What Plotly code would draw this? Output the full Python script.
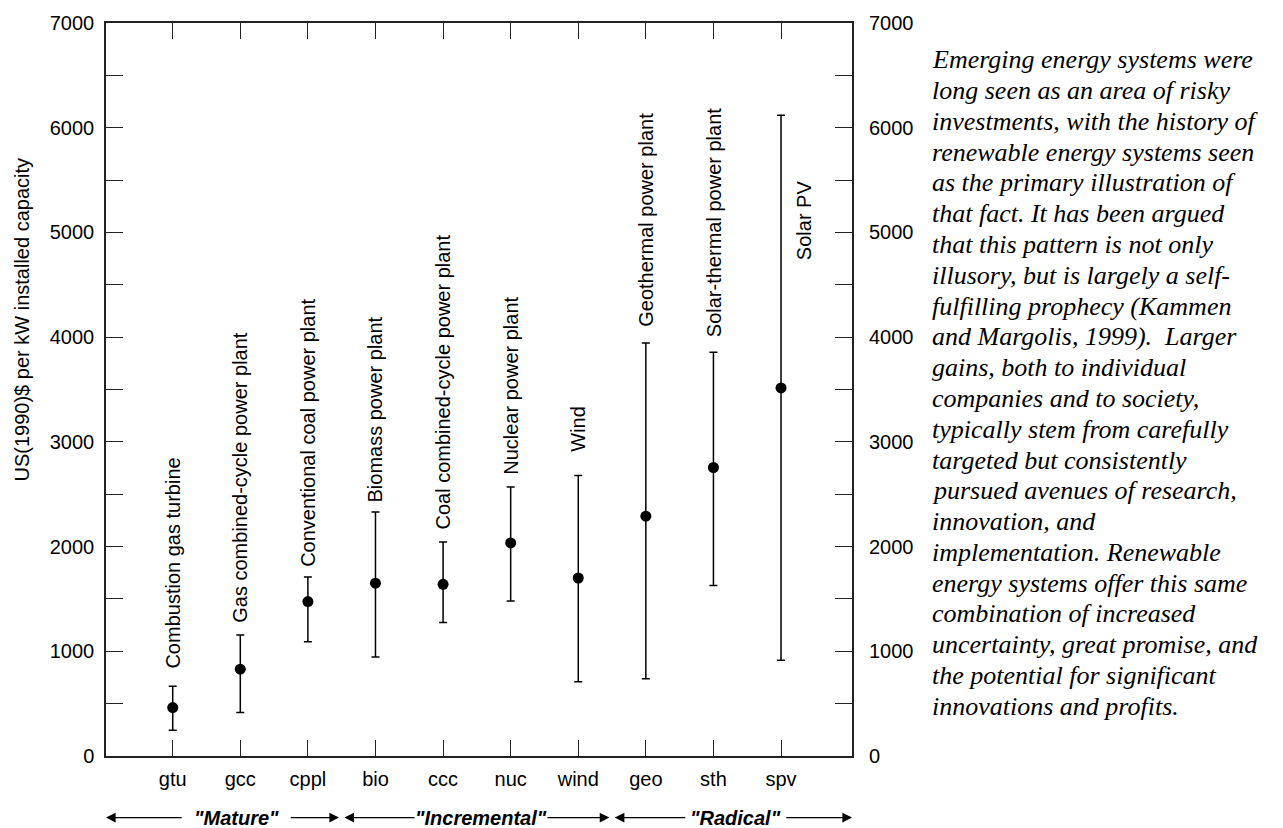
import plotly.graph_objects as go

# ---------------- data ----------------
categories = ['gtu', 'gcc', 'cppl', 'bio', 'ccc', 'nuc', 'wind', 'geo', 'sth', 'spv']
tech_names = ['Combustion gas turbine', 'Gas combined-cycle power plant',
              'Conventional coal power plant', 'Biomass power plant',
              'Coal combined-cycle power plant', 'Nuclear power plant', 'Wind',
              'Geothermal power plant', 'Solar-thermal power plant', 'Solar PV']
cost_mid = [462, 829, 1475, 1650, 1640, 2035, 1700, 2290, 2755, 3515]
cost_low = [247, 415, 1090, 945, 1275, 1480, 710, 737, 1628, 915]
cost_high = [665, 1156, 1710, 2330, 2044, 2568, 2679, 3945, 3856, 6120]

group_names = ['"Mature"', '"Incremental"', '"Radical"']
group_first = ['gtu', 'bio', 'geo']
group_last = ['cppl', 'wind', 'spv']

y_ticks_major = [0, 1000, 2000, 3000, 4000, 5000, 6000, 7000]
y_axis_title = 'US(1990)$ per kW installed capacity'

paragraph_lines = [
    'Emerging energy systems were',
    'long seen as an area of risky',
    'investments, with the history of',
    'renewable energy systems seen',
    'as the primary illustration of',
    'that fact. It has been argued',
    'that this pattern is not only',
    'illusory, but is largely a self-',
    'fulfilling prophecy (Kammen',
    'and Margolis, 1999).  Larger',
    'gains, both to individual',
    'companies and to society,',
    'typically stem from carefully',
    'targeted but consistently',
    'pursued avenues of research,',
    'innovation, and',
    'implementation. Renewable',
    'energy systems offer this same',
    'combination of increased',
    'uncertainty, great promise, and',
    'the potential for significant',
    'innovations and profits.',
]

# ---------------- styles / layout constants ----------------
W, H = 1283, 828
PL, PR, PT, PB = 106, 852, 18, 756          # plot area in pixels
X_RANGE = [-0.987, 10.05]
SANS = 'Liberation Sans, Arial, Helvetica, sans-serif'
SERIF = 'Liberation Serif, Times New Roman, serif'
FS = 20
label_gap_px = [16, 10, 8, 8, 10, 10, 22, 14, 13, 0]
group_label_x = [0.94, 4.56, 8.33]
group_half_px = [50, 62, 46]
px_per_cat = (PR - PL) / (X_RANGE[1] - X_RANGE[0])
PARA_TOP, PARA_STEP = 55.0, 31.0


def paper_y(py):
    return (PB - py) / (PB - PT)


err_plus = [h - m for h, m in zip(cost_high, cost_mid)]
err_minus = [m - l for m, l in zip(cost_mid, cost_low)]

fig = go.Figure()
fig.add_trace(go.Scatter(
    x=categories, y=cost_mid, mode='markers',
    marker=dict(color='black', size=11),
    error_y=dict(type='data', array=err_plus, arrayminus=err_minus,
                 color='black', thickness=1.5, width=4),
    showlegend=False, hoverinfo='skip'))
# invisible trace for right-hand axis
fig.add_trace(go.Scatter(x=categories, y=cost_mid, yaxis='y2', mode='markers',
                         marker=dict(opacity=0), showlegend=False, hoverinfo='skip'))

annotations = []
# rotated labels
for i, (cat, name, hi) in enumerate(zip(categories, tech_names, cost_high)):
    if cat == 'spv':
        annotations.append(dict(x=cat, y=(cost_mid[i] + cost_high[i]) / 2 + 300,
                                xref='x', yref='y', text=name, textangle=-90,
                                showarrow=False, xanchor='center', yanchor='middle',
                                xshift=23, font=dict(family=SANS, size=FS, color='black')))
    else:
        annotations.append(dict(x=cat, y=hi, xref='x', yref='y', text=name, textangle=-90,
                                showarrow=False, xanchor='center', yanchor='bottom',
                                yshift=label_gap_px[i],
                                font=dict(family=SANS, size=FS, color='black')))

# y axis title
annotations.append(dict(x=(21.5 - PL) / (PR - PL), y=paper_y(317), xref='paper', yref='paper',
                        text=y_axis_title, textangle=-90, showarrow=False,
                        xanchor='center', yanchor='middle',
                        font=dict(family=SANS, size=FS, color='black')))

# group arrows
row_y = paper_y(818)
idx = {c: i for i, c in enumerate(categories)}
bounds = [X_RANGE[0]]
for k in range(len(group_names) - 1):
    bounds.append((idx[group_last[k]] + idx[group_first[k + 1]]) / 2)
bounds.append(X_RANGE[1])
for k, gname in enumerate(group_names):
    cx = group_label_x[k]
    half = (group_half_px[k] + 3) / px_per_cat
    annotations.append(dict(x=cx, y=row_y, xref='x', yref='paper',
                            text='<b><i>' + gname + '</i></b>', showarrow=False,
                            xanchor='center', yanchor='middle',
                            font=dict(family=SANS, size=FS, color='black')))
    left_tip = bounds[k] + (0.04 if k > 0 else 0)
    right_tip = bounds[k + 1] - (0.04 if k < len(group_names) - 1 else 0)
    for tip, tail in ((left_tip, cx - half), (right_tip, cx + half)):
        annotations.append(dict(x=tip, y=row_y, xref='x', yref='paper',
                                ax=tail, ay=0, axref='x', ayref='pixel',
                                text='', showarrow=True, arrowhead=2, arrowsize=1.6,
                                arrowwidth=1.2, arrowcolor='black', standoff=0,
                                startstandoff=0))

# paragraph
for i, line in enumerate(paragraph_lines):
    annotations.append(dict(x=(930 - PL) / (PR - PL), y=paper_y(PARA_TOP + i * PARA_STEP),
                            xref='paper', yref='paper', text='<i>' + line + '</i>',
                            showarrow=False, xanchor='left', yanchor='middle',
                            font=dict(family=SERIF, size=26, color='black')))

y_tickvals = list(range(0, 7001, 500))
y_ticktext = [str(v) if v in y_ticks_major else '' for v in y_tickvals]

fig.update_layout(
    width=W, height=H,
    margin=dict(l=PL, r=W - PR, t=PT, b=H - PB, pad=0),
    paper_bgcolor='white', plot_bgcolor='white',
    font=dict(family=SANS, size=FS, color='black'),
    xaxis=dict(type='category', range=X_RANGE, showgrid=False, zeroline=False,
               showline=True, linecolor='#222', linewidth=1.5, mirror='ticks',
               ticks='inside', ticklen=16, tickwidth=1.3, tickcolor='#222',
               tickfont=dict(family=SANS, size=FS, color='black'),
               ticklabelstandoff=4),
    yaxis=dict(range=[0, 7000], showgrid=False, zeroline=False,
               showline=True, linecolor='#222', linewidth=1.5, mirror='ticks',
               ticks='inside', ticklen=17, tickwidth=1.3, tickcolor='#222',
               tickvals=y_tickvals, ticktext=y_ticktext,
               tickfont=dict(family=SANS, size=FS, color='black'),
               ticklabelstandoff=6),
    yaxis2=dict(range=[0, 7000], overlaying='y', side='right', showgrid=False,
                zeroline=False, showline=False, ticks='',
                tickvals=y_ticks_major, ticktext=[str(v) for v in y_ticks_major],
                tickfont=dict(family=SANS, size=FS, color='black'),
                ticklabelstandoff=16),
    annotations=annotations,
)

fig.write_html('out.html')
